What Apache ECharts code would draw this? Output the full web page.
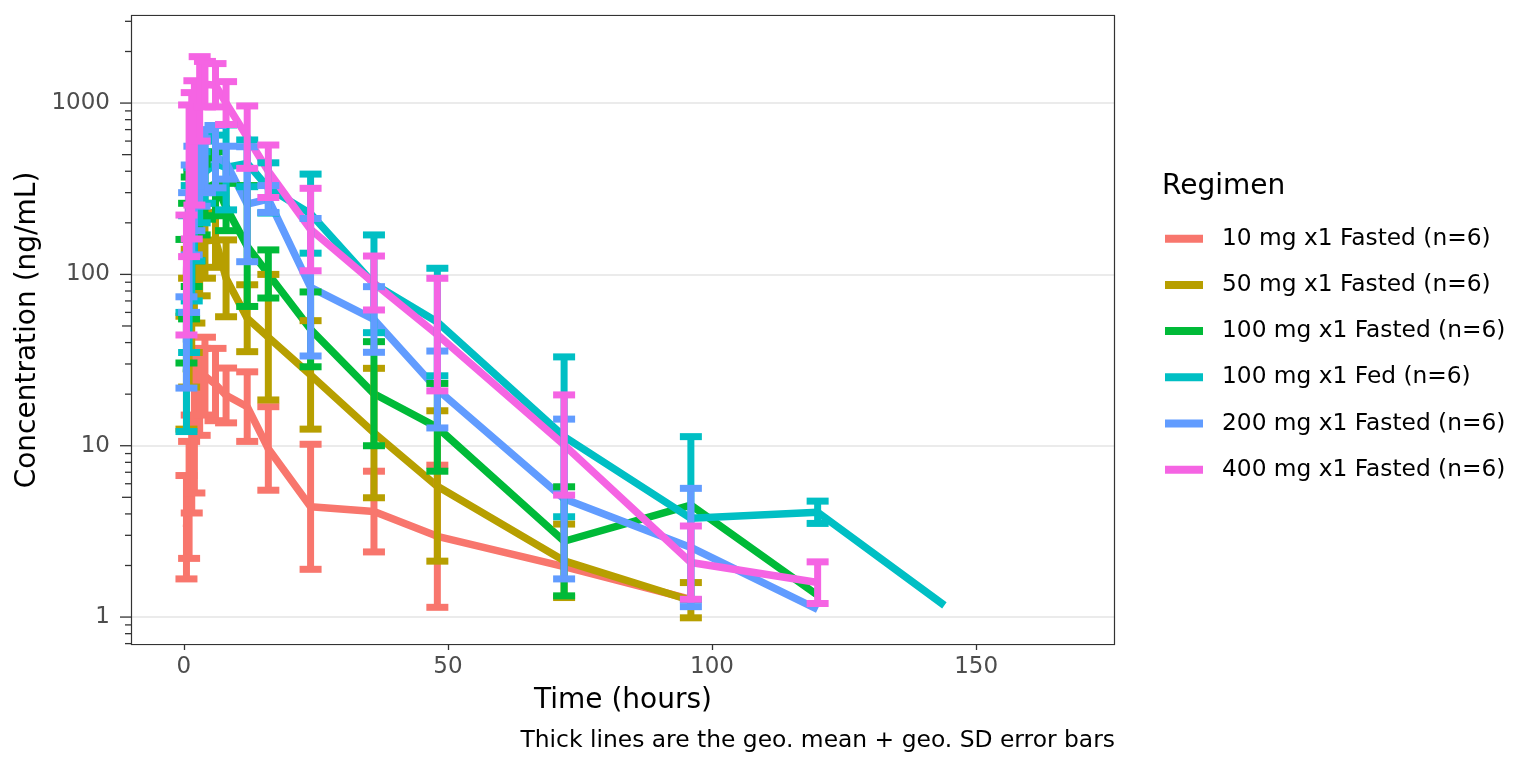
<!DOCTYPE html>
<html>
<head>
<meta charset="utf-8">
<script src="https://cdn.jsdelivr.net/npm/echarts@6/dist/echarts.min.js"></script>
<style>
  html, body { margin: 0; padding: 0; background: #fff; }
  #chart { width: 1536px; height: 768px; }
</style>
</head>
<body>
<div id="chart"></div>
<script>
// sampling times (hours)
var times = [0.5, 1, 1.5, 2, 3, 4, 6, 8, 12, 16, 24, 36, 48, 72, 96, 120, 144];

var regimens = [
  '10 mg x1 Fasted (n=6)',
  '50 mg x1 Fasted (n=6)',
  '100 mg x1 Fasted (n=6)',
  '100 mg x1 Fed (n=6)',
  '200 mg x1 Fasted (n=6)',
  '400 mg x1 Fasted (n=6)'
];
var colors = ['#F8766D', '#B79F00', '#00BA38', '#00BFC4', '#619CFF', '#F564E3'];

// geo. mean, and geo. mean / geo. SD (lo), geo. mean * geo. SD (hi); null = no value
var mean10 = [3.35, 4.83, 7.8, 13.1, 20.6, 25.5, 22.8, 19.7, 16.9, 9.6, 4.4, 4.13, 2.96, 1.97, 1.27, null, null];
var lo10   = [1.67, 2.2, 4.05, 5.3, 11.5, 15.1, 14, 13.6, 10.6, 5.5, 1.9, 2.4, 1.14, null, null, null, null];
var hi10   = [6.7, 10.6, 15.1, 32.5, 37, 43, 37, 28.4, 27, 16.9, 10.2, 7.1, 7.7, null, null, null, null];

var mean50 = [26.7, 45.7, 70, 99, 131, 157, 159, 95, 55.5, 43, 25.9, 11.9, 5.8, 2.13, 1.25, null, null];
var lo50   = [12.5, 22, 35, 52, 75, 95, 110, 56.6, 35.4, 18.5, 12.5, 4.97, 2.12, 1.3, 0.99, null, null];
var hi50   = [57, 95, 140, 190, 230, 260, 230, 159, 87, 100, 53.7, 28.3, 16, 3.49, 1.59, null, null];

var mean100 = [69.7, 119.6, 177, 219, 273, 317, 338, 247, 146, 100.6, 47.8, 20.1, 12.8, 2.77, 4.5, 1.34, null];
var lo100   = [30.4, 55, 85, 120, 170, 210, 220, 180, 65, 72.8, 28.9, 10, 7.1, 1.33, null, null, null];
var hi100   = [160, 260, 370, 400, 440, 480, 520, 340, 330, 139, 79, 40.5, 23.1, 5.76, null, null, null];

var meanFed = [27, 87.7, 152, 224, 322, 395, 442, 421, 445, 320, 226, 88, 52.7, 11.3, 3.77, 4.09, 1.17];
var loFed   = [12.1, 35, 70, 120, 200, 260, 300, 238, 325, 228, 133, 45.7, 25.6, 3.85, 1.26, 3.52, null];
var hiFed   = [60, 220, 330, 420, 520, 600, 650, 745, 609, 448, 385, 170, 108.6, 33, 11.3, 4.75, null];

var mean200 = [40, 134, 238, 317, 394, 458, 487, 449, 257, 275, 84, 54.6, 21.3, 4.9, 2.55, 1.11, null];
var lo200   = [21.7, 60, 130, 180, 250, 300, 320, 360, 118.6, 230, 33.4, 35.1, 12.7, 1.67, 1.15, null, null];
var hi200   = [74, 300, 435, 560, 620, 700, 740, 560, 556, 330, 212, 84.8, 35.7, 14.3, 5.64, null, null];

var mean400 = [99, 352, 430, 586, 1058, 1289, 1271, 1000, 633, 400, 183, 89, 44.5, 10.1, 2.08, 1.59, null];
var lo400   = [44.3, 127, 161, 254, 600, 950, 950, 750, 416, 281, 105, 62, 20.9, 5.15, 1.27, 1.2, null];
var hi400   = [222, 975, 1151, 1350, 1866, 1750, 1700, 1334, 962, 569, 318, 128, 94.9, 19.8, 3.4, 2.1, null];

var means = [mean10, mean50, mean100, meanFed, mean200, mean400];
var los = [lo10, lo50, lo100, loFed, lo200, lo400];
var his = [hi10, hi50, hi100, hiFed, hi200, hi400];

// axis ticks
var xTicks = [0, 50, 100, 150];
var yTicks = [1, 10, 100, 1000];
var xMin = -10, xMax = 176.3;
var yMin = 0.687, yMax = 3266;

var FONT = '"DejaVu Sans"';
var GRID = { left: 131, right: 421, top: 15, bottom: 123 };

var chart = echarts.init(document.getElementById('chart'));

// log ticks on the left side: long at 10^k, medium at 5*10^k, short otherwise
var logTicks = [];
for (var k = -1; k <= 3; k++) {
  for (var m = 1; m <= 9; m++) {
    var v = m * Math.pow(10, k);
    if (v >= yMin && v <= yMax) {
      logTicks.push([xMin, v, m === 1 ? 11 : (m === 5 ? 9 : 6)]);
    }
  }
}

var series = [];
// mean lines
regimens.forEach(function (name, s) {
  var pts = [];
  times.forEach(function (t, i) {
    if (means[s][i] != null) pts.push([t, means[s][i]]);
  });
  series.push({
    name: name,
    type: 'line',
    data: pts,
    showSymbol: false,
    symbol: 'none',
    color: colors[s],
    itemStyle: { color: colors[s] },
    lineStyle: { color: colors[s], width: 7.5, cap: 'butt' },
    z: 2
  });
});
// error bars
regimens.forEach(function (name, s) {
  var bars = [];
  times.forEach(function (t, i) {
    if (los[s][i] != null && his[s][i] != null) bars.push([t, los[s][i], his[s][i]]);
  });
  var col = colors[s];
  series.push({
    name: name,
    type: 'custom',
    data: bars,
    encode: { x: 0, y: [1, 2] },
    z: 3,
    silent: true,
    renderItem: function (params, api) {
      var x = api.value(0);
      var a = api.coord([x, api.value(1)]);
      var b = api.coord([x, api.value(2)]);
      var hw = 11;
      var st = { stroke: col, lineWidth: 7, fill: null };
      return {
        type: 'group',
        children: [
          { type: 'line', shape: { x1: a[0], y1: a[1], x2: b[0], y2: b[1] }, style: st },
          { type: 'line', shape: { x1: a[0] - hw, y1: a[1], x2: a[0] + hw, y2: a[1] }, style: st },
          { type: 'line', shape: { x1: b[0] - hw, y1: b[1], x2: b[0] + hw, y2: b[1] }, style: st }
        ]
      };
    }
  });
});
// log ticks drawn outside the panel
series.push({
  name: 'logticks',
  type: 'custom',
  data: logTicks,
  encode: { x: 0, y: 1 },
  clip: false,
  silent: true,
  z: 5,
  renderItem: function (params, api) {
    var p = api.coord([api.value(0), api.value(1)]);
    var len = api.value(2);
    return {
      type: 'line',
      shape: { x1: p[0] - len, y1: p[1], x2: p[0], y2: p[1] },
      style: { stroke: '#333333', lineWidth: 1.3 }
    };
  }
});

var option = {
  animation: false,
  backgroundColor: '#ffffff',
  grid: {
    left: GRID.left, right: GRID.right, top: GRID.top, bottom: GRID.bottom,
    show: true, borderWidth: 0, backgroundColor: '#ffffff'
  },
  xAxis: {
    type: 'value',
    min: xMin, max: xMax,
    axisLine: { show: false, onZero: false },
    axisTick: { show: true, customValues: xTicks, length: 5, lineStyle: { color: '#333333', width: 1.3 } },
    axisLabel: {
      customValues: xTicks, fontSize: 23, color: '#4D4D4D', margin: 11, fontFamily: FONT
    },
    splitLine: { show: false }
  },
  yAxis: {
    type: 'log',
    logBase: 10,
    min: yMin, max: yMax,
    axisLine: { show: false },
    axisTick: { show: false },
    axisLabel: {
      customValues: yTicks,
      fontSize: 23, color: '#4D4D4D', margin: 21, fontFamily: FONT,
      formatter: function (v) {
        var l = Math.log(v) / Math.LN10;
        return Math.abs(l - Math.round(l)) < 1e-6 ? String(Math.round(v)) : '';
      }
    },
    splitLine: { show: true, lineStyle: { color: '#EBEBEB', width: 2 } }
  },
  legend: {
    data: regimens.map(function (n, s) {
      return { name: n, icon: 'rect', itemStyle: { color: colors[s] } };
    }),
    orient: 'vertical',
    left: 1160,
    top: 221.7,
    itemWidth: 38,
    itemHeight: 8,
    itemGap: 22.2,
    selectedMode: false,
    textStyle: { fontSize: 23.3, lineHeight: 24, color: '#000000', fontFamily: FONT, padding: [0, 0, 0, 14] }
  },
  graphic: [
    {
      // panel border on top of the marks
      type: 'rect', z: 100, silent: true,
      shape: { x: GRID.left + 0.5, y: GRID.top + 0.5, width: 1536 - GRID.left - GRID.right - 1, height: 768 - GRID.top - GRID.bottom - 1 },
      style: { fill: null, stroke: '#333333', lineWidth: 1.2 }
    },
    {
      type: 'text', x: 28, y: 330, rotation: Math.PI / 2,
      style: { text: 'Concentration (ng/mL)', font: '28px ' + FONT, fill: '#000000', align: 'center', verticalAlign: 'middle' }
    },
    {
      type: 'text', x: 623, y: 701,
      style: { text: 'Time (hours)', font: '28px ' + FONT, fill: '#000000', align: 'center', verticalAlign: 'middle' }
    },
    {
      type: 'text', x: 1162, y: 186.7,
      style: { text: 'Regimen', font: '28px ' + FONT, fill: '#000000', align: 'left', verticalAlign: 'middle' }
    },
    {
      type: 'text', x: 1115, y: 741,
      style: { text: 'Thick lines are the geo. mean + geo. SD error bars', font: '23.4px ' + FONT, fill: '#000000', align: 'right', verticalAlign: 'middle' }
    }
  ],
  series: series
};

chart.setOption(option);
</script>
</body>
</html>
